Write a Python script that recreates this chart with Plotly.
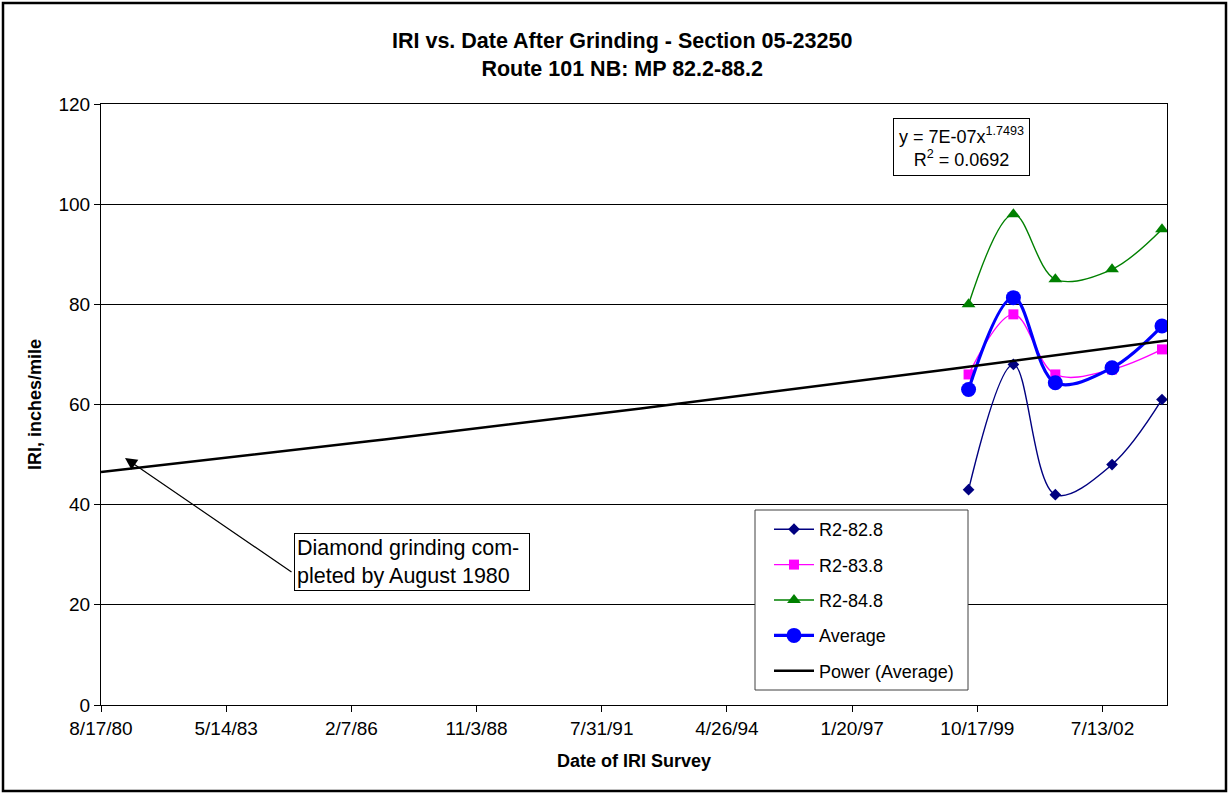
import numpy as np
import pandas as pd
import plotly.graph_objects as go

# survey dates and IRI values (inches/mile)
survey_dates = ["1999-08-08", "2000-07-31", "2001-07-01", "2002-09-27", "2003-10-31"]
r2_828 = [43, 68, 42, 48, 61]
r2_838 = [66, 78, 66, 67, 71]
r2_848 = [80, 98, 85, 87, 95]
average = [63.0, 81.33, 64.33, 67.33, 75.67]

tick_labels = ["8/17/80", "5/14/83", "2/7/86", "11/3/88", "7/31/91",
               "4/26/94", "1/20/97", "10/17/99", "7/13/02"]
x_range = ["1980-08-17", "2003-12-10"]

FONT = "Liberation Sans, Arial, sans-serif"

# plot-area pixel box, used for placing boxes/notes in paper coords
L, R, T, B = 101, 1167, 104, 705


def px(x):
    return (x - L) / (R - L)


def py(y):
    return (B - y) / (B - T)


dates = pd.to_datetime(survey_dates)
tickvals = pd.to_datetime(tick_labels, format="%m/%d/%y")

# power trendline like Excel: fit on serial day numbers
base = pd.Timestamp("1899-12-30")
serial = np.array([(d - base).days for d in dates], dtype=float)
b, a = np.polyfit(np.log(serial), np.log(average), 1)
s0 = (pd.Timestamp(x_range[0]) - base).days
s1 = (pd.Timestamp(x_range[1]) - base).days
trend_s = np.linspace(s0, s1, 80)
trend_y = np.exp(a) * trend_s ** b
trend_x = base + pd.to_timedelta(trend_s, unit="D")

fig = go.Figure()
series = [
    ("R2-82.8", r2_828, "#000080", "diamond", 9, 1.4),
    ("R2-83.8", r2_838, "#FF00FF", "square", 10, 1.4),
    ("R2-84.8", r2_848, "#008000", "triangle-up", 12, 1.4),
    ("Average", average, "#0000FF", "circle", 15, 3.2),
]
for name, vals, col, sym, size, w in series:
    fig.add_trace(go.Scatter(
        x=dates, y=vals, name=name, legendgroup=name,
        mode="lines+markers", line=dict(color=col, width=w, shape="spline", smoothing=1),
        marker=dict(symbol=sym, size=size, color=col),
    ))
fig.add_trace(go.Scatter(x=trend_x, y=trend_y, name="Power (Average)", legendgroup="pow",
                         mode="lines", line=dict(color="black", width=2.5)))

fig.update_xaxes(range=x_range, tickvals=tickvals, ticktext=tick_labels,
                 showgrid=False, showline=True, linecolor="black", mirror=True,
                 ticks="outside", ticklen=6, tickcolor="black",
                 tickfont=dict(size=19, color="black"),
                 title=dict(text="<b>Date of IRI Survey</b>", font=dict(size=18), standoff=16))
fig.update_yaxes(range=[0, 120], dtick=20, showgrid=True, gridcolor="black", gridwidth=1,
                 showline=True, linecolor="black", mirror=True, zeroline=False,
                 ticks="outside", ticklen=6, tickcolor="black",
                 tickfont=dict(size=19, color="black"),
                 title=dict(text="<b>IRI, inches/mile</b>", font=dict(size=18), standoff=12))

fig.add_annotation(xref="paper", yref="paper", x=px(622), y=py(55),
                   text="<b>IRI vs. Date After Grinding - Section 05-23250<br>Route 101 NB: MP 82.2-88.2</b>",
                   showarrow=False, font=dict(size=21.5), xanchor="center", yanchor="middle")

fig.add_annotation(xref="paper", yref="paper", x=px(961), y=py(147),
                   text="y = 7E-07x<sup>1.7493</sup><br>R<sup>2</sup> = 0.0692",
                   showarrow=False, font=dict(size=18), xanchor="center", yanchor="middle",
                   bordercolor="black", borderwidth=1, borderpad=5, bgcolor="white")

# note box with arrow to the grinding date
fig.add_annotation(xref="paper", yref="paper", x=px(125), y=py(458), ax=293 - 125, ay=573 - 458,
                   axref="pixel", ayref="pixel", text="", showarrow=True,
                   arrowhead=2, arrowsize=2, arrowwidth=1.2, arrowcolor="black")
fig.add_annotation(xref="paper", yref="paper", x=px(294), y=py(562),
                   text="Diamond grinding com-<br>pleted by August 1980", align="left",
                   showarrow=False, font=dict(size=21.5), xanchor="left", yanchor="middle",
                   width=230, bordercolor="black", borderwidth=1, borderpad=2, bgcolor="white")

# legend frame (drawn separately so the entries can sit inset like Excel)
fig.add_shape(type="rect", xref="paper", yref="paper", x0=px(755), x1=px(968), y0=py(690), y1=py(510),
              line=dict(color="#404040", width=1), fillcolor="white", layer="above")

# outer chart border
fig.add_shape(type="rect", xref="paper", yref="paper", x0=px(3), x1=px(1226), y0=py(791), y1=py(3),
              line=dict(color="black", width=2.5))

fig.update_layout(
    width=1230, height=795, margin=dict(l=L, r=1230 - R, t=T, b=795 - B),
    paper_bgcolor="white", plot_bgcolor="white",
    font=dict(family=FONT, color="black", size=17),
    legend=dict(x=px(769), y=py(511), xanchor="left", yanchor="top",
                borderwidth=0, bgcolor="rgba(0,0,0,0)",
                font=dict(size=18), tracegroupgap=9, itemwidth=40),
    showlegend=True,
)

fig.write_html("out.html", config={"displayModeBar": False},
               post_script="document.body.style.margin='0';")
